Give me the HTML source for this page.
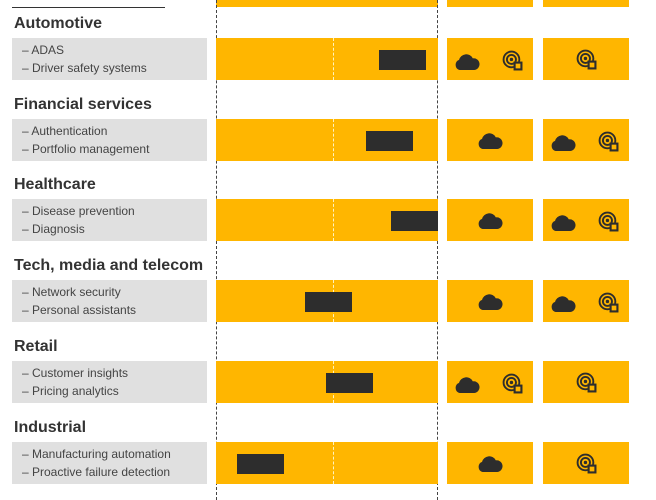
<!DOCTYPE html>
<html><head><meta charset="utf-8"><style>
body{margin:0;width:656px;height:500px;overflow:hidden;background:#fff;font-family:"Liberation Sans",sans-serif;position:relative}
.a{position:absolute}
.y{background:#FFB600}
.g{background:#e0e0e0}
.h{font-weight:bold;font-size:16px;color:#333;left:14px}
.it{font-size:12px;color:#444;line-height:18px;left:22px}
.d{background:#2d2d2d;height:20px;width:47px}
</style></head><body>
<div class="a y" style="left:216px;top:0;width:222px;height:7px"></div>
<div class="a y" style="left:447px;top:0;width:86px;height:7px"></div>
<div class="a y" style="left:543px;top:0;width:86px;height:7px"></div>
<div class="a" style="left:12px;top:7px;width:153px;height:1px;background:#333"></div>
<div class="a" style="left:216px;top:0;height:500px;border-left:1px dashed #444"></div>
<div class="a" style="left:437px;top:0;height:500px;border-left:1px dashed #444"></div>
<svg width="0" height="0" style="position:absolute"><defs>
<symbol id="c" viewBox="0 0 24 16"><path d="M5 16 A5 5 0 0 1 4.5 6.5 A7 7 0 0 1 17.5 5 A5.5 5.5 0 0 1 19 16 Z" fill="#2d2d2d"/></symbol>
<symbol id="r" viewBox="0 0 20 20"><g fill="none" stroke="#2d2d2d" stroke-width="1.8"><circle cx="9" cy="9" r="7.5"/><circle cx="9" cy="9" r="4.3"/></g><circle cx="9" cy="9" r="1.6" fill="#2d2d2d"/><rect x="11" y="11" width="8" height="8" fill="#FFB600"/><rect x="12" y="12" width="6.5" height="6.5" fill="none" stroke="#2d2d2d" stroke-width="2"/></symbol>
</defs></svg>
<div id="rows"></div>
<script>
var R=[["Automotive","ADAS","Driver safety systems",379,"cr","r"],
["Financial services","Authentication","Portfolio management",366,"c","cr"],
["Healthcare","Disease prevention","Diagnosis",391,"c","cr"],
["Tech, media and telecom","Network security","Personal assistants",305,"c","cr"],
["Retail","Customer insights","Pricing analytics",326,"cr","r"],
["Industrial","Manufacturing automation","Proactive failure detection",237,"c","r"]];
var h="";
function ic(s,x0,y){if(s=="c")return '<svg class="a" style="left:'+(x0+30)+'px;top:'+(y+13)+'px" width="26" height="17"><use href="#c"/></svg>';
if(s=="r")return '<svg class="a" style="left:'+(x0+33)+'px;top:'+(y+11)+'px" width="21" height="21"><use href="#r"/></svg>';
return '<svg class="a" style="left:'+(x0+7)+'px;top:'+(y+15)+'px" width="26" height="17"><use href="#c"/></svg><svg class="a" style="left:'+(x0+55)+'px;top:'+(y+12)+'px" width="21" height="21"><use href="#r"/></svg>';}
R.forEach(function(r,i){var y=38+i*80.7;
h+='<div class="a h" style="top:'+(y-23)+'px">'+r[0]+'</div>';
h+='<div class="a g" style="left:12px;top:'+y+'px;width:195px;height:42px"></div>';
h+='<div class="a it" style="top:'+(y+3)+'px">– '+r[1]+'<br>– '+r[2]+'</div>';
h+='<div class="a y" style="left:216px;top:'+y+'px;width:222px;height:42px"></div>';
h+='<div class="a" style="left:333px;top:'+y+'px;height:42px;border-left:1px dashed #fff3c0"></div>';
h+='<div class="a d" style="left:'+r[3]+'px;top:'+(y+12)+'px"></div>';
h+='<div class="a y" style="left:447px;top:'+y+'px;width:86px;height:42px"></div>';
h+='<div class="a y" style="left:543px;top:'+y+'px;width:86px;height:42px"></div>';
h+=ic(r[4],447,y)+ic(r[5],543,y);});
document.getElementById("rows").innerHTML=h;
</script>
</body></html>
